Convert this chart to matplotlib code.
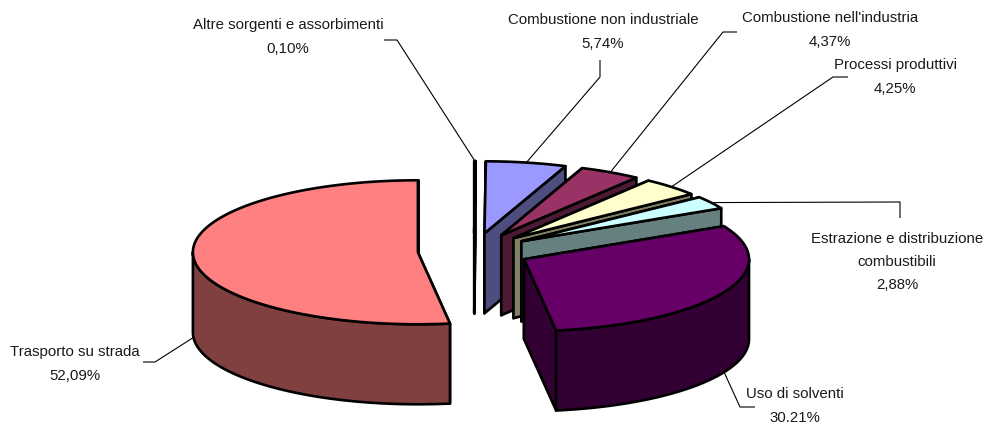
import numpy as np
import matplotlib

matplotlib.use("Agg")
import matplotlib.pyplot as plt
from matplotlib.patches import Polygon


# emission shares by source sector (%), clockwise from 12 o'clock
sectors = [
    "Altre sorgenti e assorbimenti",
    "Combustione non industriale",
    "Combustione nell'industria",
    "Processi produttivi",
    "Estrazione e distribuzione\ncombustibili",
    "Uso di solventi",
    "Trasporto su strada",
]
shares = [0.10, 5.74, 4.37, 4.25, 2.88, 30.21, 52.09]
share_labels = ["0,10%", "5,74%", "4,37%", "4,25%", "2,88%", "30.21%", "52,09%"]
top_colors = ["#0066CC", "#9999FF", "#993366", "#FFFFCC", "#CCFFFF", "#660066", "#FF8080"]

# 3D pie layout (pixel space of the figure)
CX, CY = 474.0, 251.0
RX, RY = 225.0, 72.0
DEPTH = 80.0
EXPLODE = 0.25
EDGE_LW = 1.9

# label text centre and leader elbow for each sector
label_pos = [(288, 37), (603, 32), (830, 30), (895, 77), (897, 262), (795, 406), (75, 364)]
elbows = [
    [(384, 40), (397, 40)],
    [(600, 60), (600, 77)],
    [(737, 32), (723, 32)],
    [(848, 77), (833, 77)],
    [(900, 218), (900, 202)],
    [(755, 407), (740, 407)],
    [(143, 362), (155, 362)],
]


def _shade(color, k=0.5):
    rgb = np.array(matplotlib.colors.to_rgb(color))
    return tuple(rgb * k)


def _pt(cx, cy, theta, r=1.0, dz=0.0):
    return (cx + RX * r * np.cos(theta), cy - RY * r * np.sin(theta) + dz)


def _front_ranges(t0, t1):
    # parts of [t0, t1] where the outer wall faces the viewer (sin < 0)
    out = []
    k = np.floor(t0 / (2 * np.pi)) - 1
    while True:
        a = np.pi + 2 * np.pi * k
        b = 2 * np.pi + 2 * np.pi * k
        if a > t1:
            break
        lo, hi = max(a, t0), min(b, t1)
        if hi > lo:
            out.append((lo, hi))
        k += 1
    return out


def draw_slice(ax, t0, t1, color):
    side = _shade(color)
    mid = 0.5 * (t0 + t1)
    cx = CX + EXPLODE * RX * np.cos(mid)
    cy = CY - EXPLODE * RY * np.sin(mid)
    kw = dict(edgecolor="black", linewidth=EDGE_LW, joinstyle="round")

    def cut_face(theta):
        return [_pt(cx, cy, theta, 0), _pt(cx, cy, theta), _pt(cx, cy, theta, dz=DEPTH),
                _pt(cx, cy, theta, 0, dz=DEPTH)]

    # t1 end faces the viewer when cos(t1) < 0, t0 end when cos(t0) > 0
    faces = [(t1, np.cos(t1) < 0), (t0, np.cos(t0) > 0)]
    for theta, front in sorted(faces, key=lambda f: f[1]):
        ax.add_patch(Polygon(cut_face(theta), closed=True, facecolor=side, **kw))

    for lo, hi in _front_ranges(t0, t1):
        ts = np.linspace(lo, hi, 120)
        upper = [_pt(cx, cy, t) for t in ts]
        lower = [_pt(cx, cy, t, dz=DEPTH) for t in ts[::-1]]
        ax.add_patch(Polygon(upper + lower, closed=True, facecolor=side, **kw))

    ts = np.linspace(t0, t1, max(int(abs(t1 - t0) * 60), 4))
    top = [_pt(cx, cy, 0, 0)] + [_pt(cx, cy, t) for t in ts]
    ax.add_patch(Polygon(top, closed=True, facecolor=color, **kw))

    # leader anchor: wall foot for front slices, rim for back ones
    if np.sin(mid) < 0:
        return _pt(cx, cy, mid, dz=DEPTH)
    return _pt(cx, cy, mid)


fig = plt.figure(figsize=(9.88, 4.25), dpi=100)
ax = fig.add_axes([0, 0, 1, 1])
ax.set_xlim(0, 988)
ax.set_ylim(425, 0)
ax.axis("off")

total = sum(shares)
angles = []
start = np.pi / 2
for v in shares:
    span = 2 * np.pi * v / total
    # counterclockwise interval [t0, t1]; slices run clockwise from the top
    angles.append((start - span, start))
    start -= span

# paint back slices first
order = sorted(range(len(shares)), key=lambda i: -np.sin(0.5 * sum(angles[i])))
anchors = {}
for i in order:
    t0, t1 = angles[i]
    anchors[i] = draw_slice(ax, t0, t1, top_colors[i])

for i, name in enumerate(sectors):
    pts = elbows[i] + [anchors[i]]
    xs, ys = zip(*pts)
    ax.plot(xs, ys, color="black", linewidth=0.8, solid_capstyle="butt")
    x, y = label_pos[i]
    ax.text(x, y, f"{name}\n{share_labels[i]}", ha="center", va="center",
            fontsize=10.8, family="Liberation Sans",
            color="#1a1a1a", linespacing=1.85)

fig.savefig("out.png", dpi=100)
